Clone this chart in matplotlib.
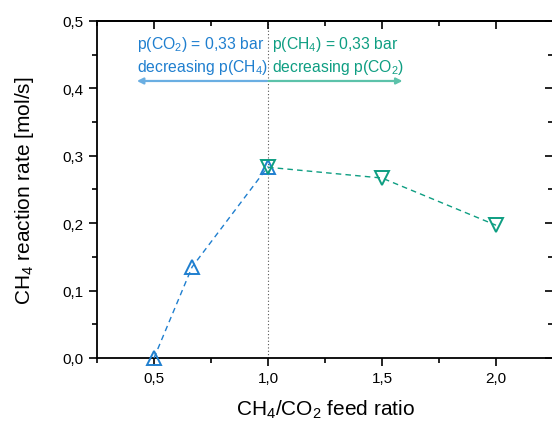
import matplotlib
matplotlib.use("Agg")
import matplotlib.pyplot as plt
from matplotlib.ticker import FuncFormatter, MultipleLocator

plt.rcParams['font.family'] = ['Liberation Sans', 'DejaVu Sans']
plt.rcParams['mathtext.fontset'] = 'custom'
plt.rcParams['mathtext.rm'] = 'Liberation Sans'
plt.rcParams['mathtext.it'] = 'Liberation Sans:italic'

# data
ratio_ch4 = [0.5, 0.667, 1.0]
rate_ch4 = [0.0, 0.135, 0.284]
ratio_co2 = [1.0, 1.5, 2.0]
rate_co2 = [0.283, 0.267, 0.197]

blue = '#1f7fcf'
teal = '#0e9e82'
blue_l = '#6aaee2'
teal_l = '#5cc2aa'

fig = plt.figure(figsize=(5.52, 4.27), dpi=100)
ax = fig.add_axes([97/552, 1-359/427, (553-97)/552, (359-22)/427])

ax.plot(ratio_ch4, rate_ch4, ls='--', lw=1.0, color=blue, marker='^', ms=10,
        mfc='none', mec=blue, mew=1.4, dashes=(4, 3), clip_on=False, zorder=3)
ax.plot(ratio_co2, rate_co2, ls='--', lw=1.0, color=teal, marker='v', ms=10,
        mfc='none', mec=teal, mew=1.4, dashes=(4, 3), clip_on=False, zorder=3)

ax.axvline(1.0, color='#555555', lw=0.8, ls=(0, (1, 2)), zorder=0)

ax.annotate('', xy=(0.425, 0.411), xytext=(0.997, 0.411),
            arrowprops=dict(arrowstyle='-|>', color=blue_l, lw=1.6,
                            mutation_scale=9, shrinkA=0, shrinkB=0))
ax.annotate('', xy=(1.59, 0.411), xytext=(1.003, 0.411),
            arrowprops=dict(arrowstyle='-|>', color=teal_l, lw=1.6,
                            mutation_scale=9, shrinkA=0, shrinkB=0))
fs = 11.3
ax.text(0.425, 0.466, r'p(CO$_2$) = 0,33 bar', color=blue, fontsize=fs, va='center')
ax.text(0.425, 0.433, r'decreasing p(CH$_4$)', color=blue, fontsize=fs, va='center')
ax.text(1.018, 0.466, r'p(CH$_4$) = 0,33 bar', color=teal, fontsize=fs, va='center')
ax.text(1.018, 0.433, r'decreasing p(CO$_2$)', color=teal, fontsize=fs, va='center')

ax.set_xlim(0.25, 2.25)
ax.set_ylim(0, 0.5)
ax.xaxis.set_major_locator(MultipleLocator(0.5))
ax.xaxis.set_minor_locator(MultipleLocator(0.25))
ax.yaxis.set_major_locator(MultipleLocator(0.1))
ax.yaxis.set_minor_locator(MultipleLocator(0.05))
fmt = FuncFormatter(lambda v, p: f'{v:.1f}'.replace('.', ','))
ax.xaxis.set_major_formatter(fmt)
ax.yaxis.set_major_formatter(fmt)

for s in ax.spines.values():
    s.set_linewidth(1.3)
ax.tick_params(which='both', bottom=True, left=True, top=False, right=False,
               direction='out', width=1.2, labelsize=11)
ax.tick_params(which='major', length=6)
ax.tick_params(which='minor', length=3.5)

sec_x = ax.secondary_xaxis('top')
sec_x.set_xticks([0.5, 1.0, 1.5, 2.0])
sec_x.xaxis.set_minor_locator(MultipleLocator(0.25))
sec_x.tick_params(which='both', direction='in', labeltop=False, width=1.2)
sec_x.tick_params(which='major', length=6)
sec_x.tick_params(which='minor', length=3.5)
sec_x.spines['top'].set_linewidth(1.3)
sec_y = ax.secondary_yaxis('right')
sec_y.yaxis.set_major_locator(MultipleLocator(0.1))
sec_y.yaxis.set_minor_locator(MultipleLocator(0.05))
sec_y.tick_params(which='both', direction='in', labelright=False, width=1.2)
sec_y.tick_params(which='major', length=6)
sec_y.tick_params(which='minor', length=3.5)

ax.set_xlabel(r'CH$_4$/CO$_2$ feed ratio', fontsize=15, labelpad=9)
ax.set_ylabel(r'CH$_4$ reaction rate [mol/s]', fontsize=15, labelpad=19)

fig.savefig('out.png', dpi=100)
